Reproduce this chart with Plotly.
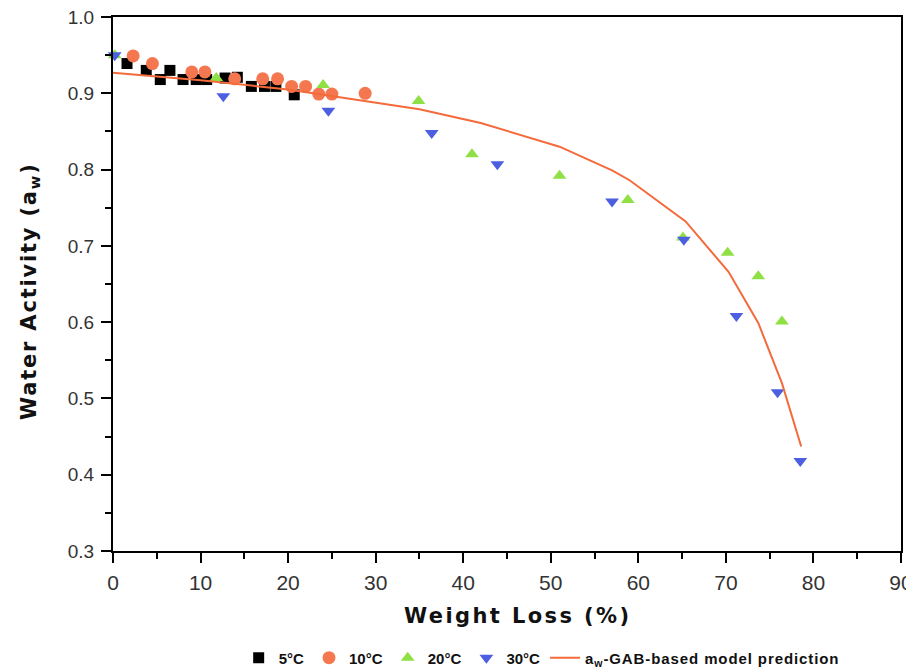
import plotly.graph_objects as go

# 5°C
x5 = [1.6, 3.8, 5.4, 6.5, 8.0, 9.5, 10.7, 12.8, 14.2, 15.8, 17.3, 18.6, 20.7]
y5 = [0.939, 0.930, 0.918, 0.930, 0.918, 0.918, 0.918, 0.920, 0.921, 0.909, 0.909, 0.909, 0.898]
# 10°C
x10 = [2.3, 4.5, 9.0, 10.5, 13.9, 17.1, 18.8, 20.4, 22.0, 23.5, 25.0, 28.8]
y10 = [0.949, 0.939, 0.928, 0.928, 0.919, 0.919, 0.919, 0.909, 0.909, 0.899, 0.899, 0.900]
# 20°C
x20 = [0.2, 11.8, 24.0, 34.9, 41.0, 51.0, 58.8, 65.1, 70.2, 73.7, 76.4]
y20 = [0.950, 0.920, 0.911, 0.890, 0.820, 0.792, 0.760, 0.711, 0.691, 0.660, 0.601]
# 30°C
x30 = [0.2, 12.6, 24.6, 36.4, 43.9, 57.0, 65.2, 71.2, 75.9, 78.5]
y30 = [0.950, 0.896, 0.877, 0.848, 0.807, 0.758, 0.708, 0.608, 0.508, 0.418]
# model prediction
xm = [0, 10, 20, 30, 35, 42, 51, 57, 59, 65.4, 70.3, 73.7, 76.4, 78.6]
ym = [0.927, 0.917, 0.905, 0.888, 0.879, 0.861, 0.830, 0.799, 0.786, 0.732, 0.666, 0.599, 0.520, 0.437]

x_title = "Weight Loss (%)"
y_title = "Water Activity (a<sub>w</sub>)"

fig = go.Figure()
fig.add_trace(go.Scatter(x=x5, y=y5, mode="markers", name="5°C",
                         marker=dict(symbol="square", size=11, color="#000000"), cliponaxis=False))
fig.add_trace(go.Scatter(x=x10, y=y10, mode="markers", name="10°C",
                         marker=dict(symbol="circle", size=13, color="#f5774f"), cliponaxis=False))
fig.add_trace(go.Scatter(x=x20, y=y20, mode="markers", name="20°C",
                         marker=dict(symbol="triangle-up", size=12, color="#8fe045"), cliponaxis=False))
fig.add_trace(go.Scatter(x=x30, y=y30, mode="markers", name="30°C",
                         marker=dict(symbol="triangle-down", size=12, color="#4c5fe0"), cliponaxis=False))
fig.add_trace(go.Scatter(x=xm, y=ym, mode="lines",
                         name='<span style="letter-spacing:0.9px">a<sub>w</sub>-GAB-based model prediction</span>',
                         line=dict(color="#f46a3a", width=2)))

axis_common = dict(
    showgrid=False, zeroline=False, showline=True, linecolor="#000", linewidth=2,
    mirror=True, ticks="outside", ticklen=10, tickwidth=2, tickcolor="#000",
    automargin=False, ticklabeloverflow="allow",
)
title_font = dict(family="DejaVu Sans", size=21, color="#111", weight="bold")

fig.update_layout(
    width=906, height=660,
    paper_bgcolor="white", plot_bgcolor="white",
    margin=dict(l=105, r=13, t=9, b=117),
    xaxis=dict(range=[0, 90], dtick=10, tick0=0, ticklabelstandoff=2,
               tickfont=dict(family="Liberation Sans, Arial", size=21, color="#333"),
               minor=dict(dtick=5, ticks="outside", ticklen=6, tickwidth=2, tickcolor="#000"),
               **axis_common),
    yaxis=dict(range=[0.3, 1.0], tickmode="array",
               tickvals=[0.3, 0.4, 0.5, 0.6, 0.7, 0.8, 0.9, 1.0],
               ticktext=["0.3", "0.4", "0.5", "0.6", "0.7", "0.8", "0.9", "1.0"],
               ticklabelstandoff=3,
               tickfont=dict(family="Liberation Sans, Arial", size=19, color="#333"),
               minor=dict(tickmode="array", tickvals=[0.35, 0.45, 0.55, 0.65, 0.75, 0.85, 0.95],
                          ticks="outside", ticklen=6, tickwidth=2, tickcolor="#000"),
               **axis_common),
    legend=dict(orientation="h", x=0.544, xanchor="center",
                yref="container", y=0.0152, yanchor="middle",
                font=dict(family="Liberation Sans, Arial", size=15, color="#111", weight="bold"),
                itemwidth=30, tracegroupgap=0, bgcolor="rgba(0,0,0,0)"),
    showlegend=True,
    annotations=[
        dict(text=f'<span style="letter-spacing:2.4px">{x_title}</span>', xref="paper", yref="paper",
             x=0.514, y=-0.1217, xanchor="center", yanchor="middle", showarrow=False, font=title_font),
        dict(text=f'<span style="letter-spacing:1.8px">{y_title}</span>', xref="paper", yref="paper",
             x=-0.1053, y=0.487, xanchor="center", yanchor="middle", showarrow=False,
             textangle=-90, font=title_font),
    ],
)

fig.write_html("out.html")
